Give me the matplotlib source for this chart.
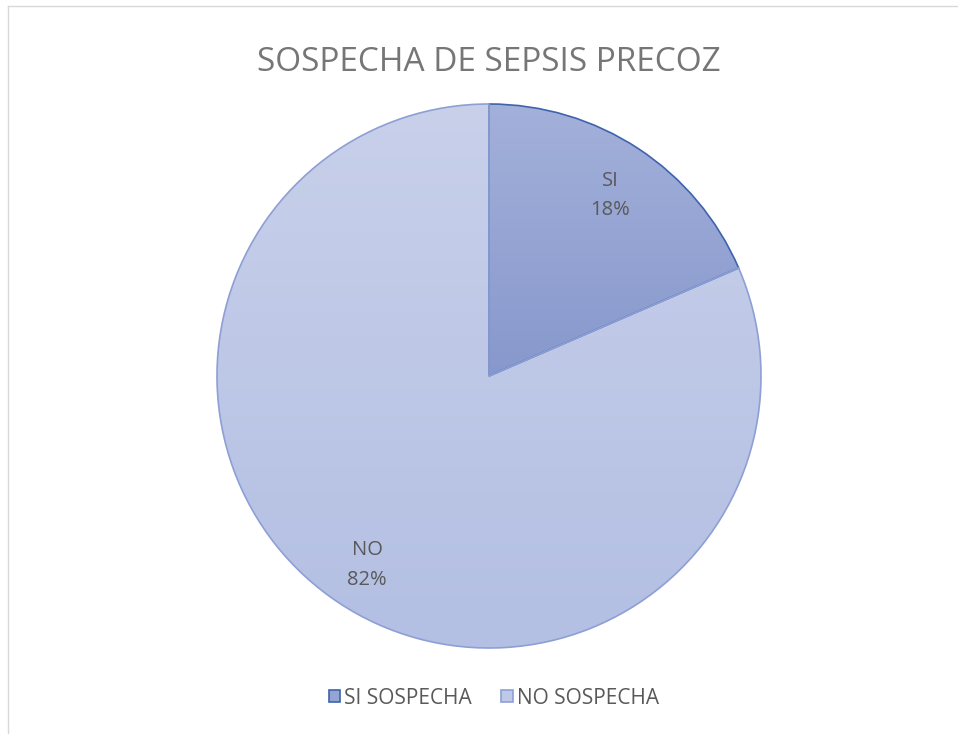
import numpy as np
import matplotlib
matplotlib.use('Agg')
import matplotlib.pyplot as plt
from matplotlib.patches import Patch
from matplotlib.colors import LinearSegmentedColormap

# data (shares; labels show rounded values)
labels = ['SI', 'NO']
legend_labels = ['SI SOSPECHA', 'NO SOSPECHA']
values = [18.5, 81.5]

TXT = '#595959'
TITLE = '#767676'
FONT = ['Open Sans', 'DejaVu Sans']
grads = [('#a3b0da', '#8798cc'), ('#c8d0ea', '#b3bfe3')]
edges = ['#3f63ad', '#8d9fd5']
flat = ['#94a4d3', '#bec8e7']

W, H = 958, 734
fig = plt.figure(figsize=(W / 100, H / 100), dpi=100, facecolor='white')
ax = fig.add_axes([0, 0, 1, 1])

cx, cy, r = 489, H - 376, 272
wedges, _ = ax.pie(values, startangle=90, counterclock=False,
                   center=(cx, cy), radius=r, frame=True,
                   colors=flat, wedgeprops=dict(linewidth=1.2))

# gradient fills clipped to each wedge; NO slice on top so its light edge covers shared radii
for i, (w, ec, (top, bot)) in enumerate(zip(wedges, edges, grads)):
    w.set_edgecolor(ec)
    ext = w.get_path().get_extents()
    cmap = LinearSegmentedColormap.from_list('g', [bot, top])
    grad = np.linspace(0, 1, 256).reshape(-1, 1)
    im = ax.imshow(grad, cmap=cmap, origin='lower', aspect='auto',
                   extent=[cx - r - 2, cx + r + 2, ext.y0, ext.y1], zorder=2)
    im.set_clip_path(w)
    w.set_facecolor('none')
    w.set_zorder(3 + i)

# data labels (name above, percentage below)
total = sum(values)
lab_pos = [(610, 186, 215), (367, 555, 585)]
for (lx, y1, y2), lab, v in zip(lab_pos, labels, values):
    ax.text(lx, H - y1, lab, ha='center', va='baseline',
            fontsize=14.5, color=TXT, family=FONT, zorder=6)
    ax.text(lx, H - y2, f'{100 * v / total:.0f}%', ha='center', va='baseline',
            fontsize=14.5, color=TXT, family=FONT, zorder=6)

ax.set_xlim(0, W)
ax.set_ylim(0, H)
ax.set_aspect('auto')
ax.axis('off')

# chart frame (top and left edges visible)
ax.plot([8, W], [H - 6, H - 6], color='#d9d9d9', lw=1, zorder=1)
ax.plot([8, 8], [H - 6, 0], color='#d9d9d9', lw=1, zorder=1)

fig.text(489 / W, 1 - 71 / H, 'SOSPECHA DE SEPSIS PRECOZ', ha='center', va='baseline',
         fontsize=24, color=TITLE, family=FONT)

handles = [Patch(facecolor=f, edgecolor=e, linewidth=1.2, label=l)
           for f, e, l in zip(flat, edges, legend_labels)]
leg = fig.legend(handles=handles, loc='center', bbox_to_anchor=(494 / W, 1 - 698 / H),
                 ncol=2, frameon=False, handlelength=0.55, handleheight=0.55,
                 handletextpad=0.2, columnspacing=1.4, prop={'family': FONT, 'size': 15})
for t in leg.get_texts():
    t.set_color(TXT)

fig.savefig('out.png', dpi=100, facecolor='white')
